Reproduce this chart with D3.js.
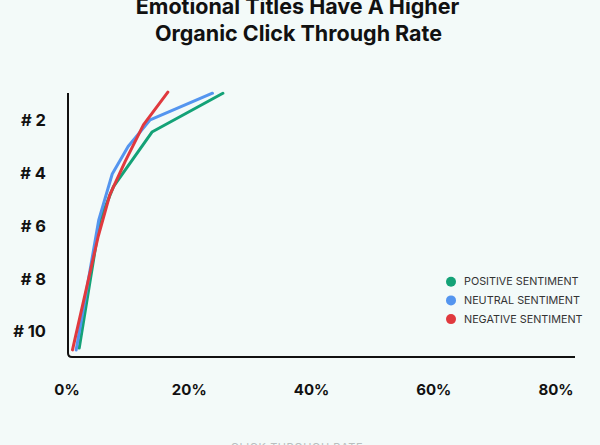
<!DOCTYPE html>
<html>
<head>
<meta charset="utf-8">
<script src="https://cdn.jsdelivr.net/npm/d3@7"></script>
<style>
  html, body { margin: 0; padding: 0; background: #f3faf9; }
  svg { display: block; font-family: Inter, "Noto Sans", sans-serif; }
</style>
</head>
<body>
<div id="chart"></div>
<script>
    var width = 600;
    var height = 445;

    // CTR (fraction), with the rank position each vertex sits at
    var positiveCtr  = [0.255, 0.139, 0.076, 0.054, 0.020];
    var positiveRank = [0.96, 2.43, 4.50, 5.76, 10.62];
    var neutralCtr   = [0.238, 0.136, 0.100, 0.074, 0.052, 0.015];
    var neutralRank  = [0.96, 1.97, 2.98, 4.02, 5.76, 10.69];
    var negativeCtr  = [0.165, 0.125, 0.095, 0.070, 0.051, 0.009];
    var negativeRank = [0.92, 2.16, 3.55, 4.81, 6.39, 10.69];

    var seriesNames  = ["POSITIVE SENTIMENT", "NEUTRAL SENTIMENT", "NEGATIVE SENTIMENT"];
    var seriesColors = ["#14a277", "#5495ef", "#e0393e"];
    var rankTicks = [2, 4, 6, 8, 10];
    var ctrTicks = [0, 0.2, 0.4, 0.6, 0.8];

    var svg = d3.select("#chart")
          .append("svg")
          .attr("width", width)
          .attr("height", height);

    svg.append("rect")
      .attr("width", width)
      .attr("height", height)
      .attr("fill", "#f3faf9");

    var x = d3.scaleLinear().domain([0, 0.8]).range([67, 556]);
    var y = d3.scaleLinear().domain([1, 10]).range([94.3, 331.7]);

    // title (top line is clipped a little by the edge, as in the source)
    var title = svg.append("text")
      .attr("text-anchor", "middle")
      .attr("font-size", 21.5)
      .attr("font-weight", 700)
      .attr("fill", "#111");
    title.append("tspan").attr("x", 297.5).attr("y", 14).text("Emotional Titles Have A Higher");
    title.append("tspan").attr("x", 298.5).attr("y", 41).text("Organic Click Through Rate");

    // axis frame (rounded bottom-left corner)
    var x0 = 68, yTop = 93, yBot = 357, xEnd = 575, r = 4;
    svg.append("path")
      .attr("d", "M" + x0 + "," + yTop + "V" + (yBot - r) +
                 "Q" + x0 + "," + yBot + " " + (x0 + r) + "," + yBot + "H" + xEnd)
      .attr("fill", "none")
      .attr("stroke", "#111")
      .attr("stroke-width", 2);

    // y tick labels
    svg.selectAll(".ylab")
      .data(rankTicks)
      .enter()
      .append("text")
      .attr("class", "ylab")
      .attr("x", 46)
      .attr("y", function(d){ return y(d); })
      .attr("dy", "0.35em")
      .attr("text-anchor", "end")
      .attr("font-size", 16.5)
      .attr("font-weight", 700)
      .attr("fill", "#111")
      .text(function(d){ return "# " + d; });

    // x tick labels
    svg.selectAll(".xlab")
      .data(ctrTicks)
      .enter()
      .append("text")
      .attr("class", "xlab")
      .attr("x", function(d){ return x(d); })
      .attr("y", 390)
      .attr("dy", "0.35em")
      .attr("text-anchor", "middle")
      .attr("font-size", 15)
      .attr("font-weight", 700)
      .attr("fill", "#111")
      .text(d3.format(".0%"));

    // x axis title (cut off by the bottom edge)
    svg.append("text")
      .attr("x", 297)
      .attr("y", 451)
      .attr("text-anchor", "middle")
      .attr("font-size", 11)
      .attr("letter-spacing", 0.6)
      .attr("fill", "#b9bfbf")
      .text("CLICK THROUGH RATE");

    var series = [
      { name: seriesNames[0], color: seriesColors[0], ctr: positiveCtr, rank: positiveRank },
      { name: seriesNames[1], color: seriesColors[1], ctr: neutralCtr,  rank: neutralRank },
      { name: seriesNames[2], color: seriesColors[2], ctr: negativeCtr, rank: negativeRank }
    ];

    var line = d3.line()
      .x(function(d){ return x(d[0]); })
      .y(function(d){ return y(d[1]); });

    svg.selectAll(".series")
      .data(series)
      .enter()
      .append("path")
      .attr("class", "series")
      .attr("fill", "none")
      .attr("stroke", function(d){ return d.color; })
      .attr("stroke-width", 3)
      .attr("stroke-linejoin", "round")
      .attr("stroke-linecap", "round")
      .attr("d", function(d){ return line(d3.zip(d.ctr, d.rank)); });

    // legend
    var legend = svg.selectAll(".legend")
      .data(series)
      .enter()
      .append("g")
      .attr("class", "legend")
      .attr("transform", function(d, i){ return "translate(451," + (281.7 + i * 18.7) + ")"; });

    legend.append("circle")
      .attr("r", 5)
      .attr("fill", function(d){ return d.color; });

    legend.append("text")
      .attr("x", 13)
      .attr("dy", "0.35em")
      .attr("font-size", 10.8)
      .attr("fill", "#333")
      .text(function(d){ return d.name; });
</script>
</body>
</html>
